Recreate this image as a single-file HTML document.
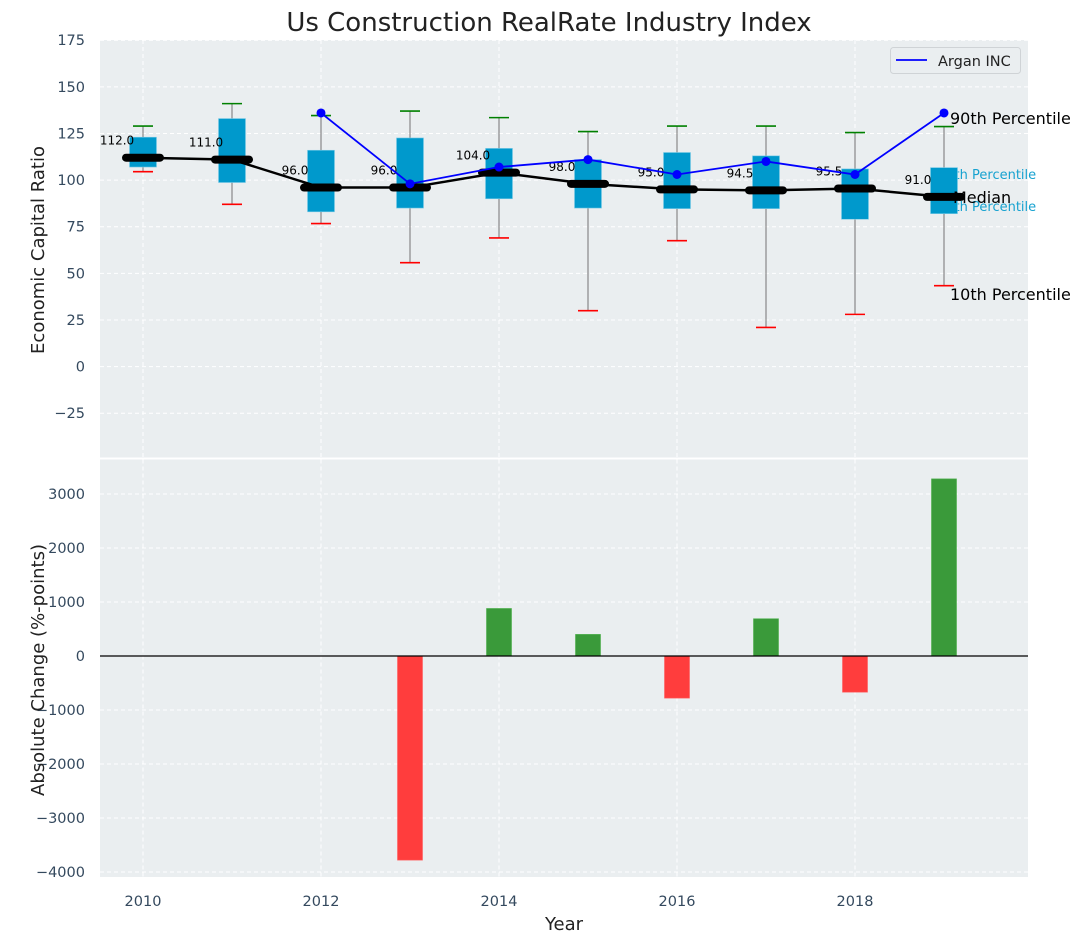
<!DOCTYPE html>
<html><head><meta charset="utf-8"><style>
body{margin:0;background:#fff}
svg{display:block;font-family:"DejaVu Sans","Liberation Sans",sans-serif}
</style></head><body>
<svg id="c" width="1085" height="942" viewBox="0 0 1085 942" xmlns="http://www.w3.org/2000/svg">
<text x="549" y="31" font-size="26" text-anchor="middle" fill="#222">Us Construction RealRate Industry Index</text>
<g id="topg"></g>
<g id="botg"></g>
</svg>
<script>
const years=[2010,2011,2012,2013,2014,2015,2016,2017,2018,2019];
const q1=[107,98.7,83,85,90,85,84.7,84.7,79,82];
const q3=[123,133,116,122.6,117,111,114.8,113,106,106.7];
const p10=[104.5,87,76.7,55.7,69,30,67.5,21,28,43.4];
const p90=[129,141,134.6,137,133.5,126,129,129,125.5,128.7];
const medians=[112,111,96,96,104,98,95,94.5,95.5,91];
const arganYears=[2012,2013,2014,2015,2016,2017,2018,2019];
const arganVals=[136,98,107,111,103,110,103,136];
const changes=[0,0,0,-3780,880,400,-780,690,-670,3280];
const topTicks=[-25,0,25,50,75,100,125,150,175];
const botTicks=[-4000,-3000,-2000,-1000,0,1000,2000,3000];
const xTicks=[2010,2012,2014,2016,2018];

const NS="http://www.w3.org/2000/svg";
function mk(parent,tag,attrs,text){const e=document.createElementNS(NS,tag);for(const k in attrs)e.setAttribute(k,attrs[k]);if(text!==undefined)e.textContent=text;parent.appendChild(e);return e;}
const L=100,R=1028;
const X=v=>143+(v-2010)*89;
const Yt=v=>366.6-(v)*1.865;
const Yb=v=>656-v*0.054;
const gTop=document.getElementById('topg'),gBot=document.getElementById('botg');

let bg=mk(gTop,'rect',{x:L,y:40,width:R-L,height:417.5,fill:'#eaeef0'});


let bg2=mk(gBot,'rect',{x:L,y:459.5,width:R-L,height:417.5,fill:'#eaeef0'});



xTicks.forEach(t=>{
  let g=mk(gTop,'line',{x1:X(t),x2:X(t),y1:40,y2:457.5,stroke:'#fff','stroke-dasharray':'4,3','stroke-width':1});
  
  
  let g2=mk(gBot,'line',{x1:X(t),x2:X(t),y1:459.5,y2:877,stroke:'#fff','stroke-dasharray':'4,3','stroke-width':1});
  
  
  let tl=mk(gBot,'text',{x:X(t),y:906,'font-size':14.5,fill:'#34495e','text-anchor':'middle'},String(t));
  
  
});
topTicks.forEach(t=>{
  let g=mk(gTop,'line',{x1:L,x2:R,y1:Yt(t),y2:Yt(t),stroke:'#fff','stroke-dasharray':'4,3','stroke-width':1});
  
  
  let tl=mk(gTop,'text',{x:85,y:Yt(t)+5,'font-size':14.5,fill:'#34495e','text-anchor':'end'},t<0?'\u2212'+(-t):String(t));
  
  
});
botTicks.forEach(t=>{
  let g=mk(gBot,'line',{x1:L,x2:R,y1:Yb(t),y2:Yb(t),stroke:'#fff','stroke-dasharray':'4,3','stroke-width':1});
  
  
  let tl=mk(gBot,'text',{x:85,y:Yb(t)+5,'font-size':14.5,fill:'#34495e','text-anchor':'end'},t<0?'\u2212'+(-t):String(t));
  
  
});

const ann=[['75th Percentile',938,179,13,'#17a2d0'],['25th Percentile',938,211,13,'#17a2d0']];
ann.forEach(a=>{let t=mk(gTop,'text',{x:a[1],y:a[2],'font-size':a[3],fill:a[4]},a[0]);

});

years.forEach((yr,i)=>{
  const x=X(yr);
  let w=mk(gTop,'line',{x1:x,x2:x,y1:Yt(p90[i]),y2:Yt(p10[i]),stroke:'#888','stroke-width':1.2});
  
  
  let b=mk(gTop,'rect',{x:x-13.5,y:Yt(q3[i]),width:27,height:Yt(q1[i])-Yt(q3[i]),fill:'#0099cc',stroke:'#7ccbe6','stroke-width':0.6});
  
  
  let g=mk(gTop,'line',{x1:x-10,x2:x+10,y1:Yt(p90[i]),y2:Yt(p90[i]),stroke:'green','stroke-width':1.6});
  
  
  let r=mk(gTop,'line',{x1:x-10,x2:x+10,y1:Yt(p10[i]),y2:Yt(p10[i]),stroke:'red','stroke-width':1.6});
  
  
});
let mp=mk(gTop,'polyline',{points:years.map((y,i)=>X(y)+','+Yt(medians[i])).join(' '),fill:'none',stroke:'#000','stroke-width':2.5});


years.forEach((yr,i)=>{
  const x=X(yr),y=Yt(medians[i]);
  let m=mk(gTop,'line',{x1:x-17,x2:x+17,y1:y,y2:y,stroke:'#000','stroke-width':8,'stroke-linecap':'round'});
  
  
  let t=mk(gTop,'text',{x:x-26,y:y-13,'font-size':12,fill:'#000','text-anchor':'middle'},medians[i].toFixed(1));
  
  
});
let ap=mk(gTop,'polyline',{points:arganYears.map((y,i)=>X(y)+','+Yt(arganVals[i])).join(' '),fill:'none',stroke:'#0000ff','stroke-width':1.8});


arganYears.forEach((yr,i)=>{let c=mk(gTop,'circle',{cx:X(yr),cy:Yt(arganVals[i]),r:4.5,fill:'#0000ff'});

});

[['90th Percentile',950,124,16],['Median',953,203,16],['10th Percentile',950,300,16]].forEach(a=>{
  let t=mk(gTop,'text',{x:a[1],y:a[2],'font-size':a[3],fill:'#000'},a[0]);
  
  
});

let lg=mk(gTop,'g',{});


mk(lg,'rect',{x:890.5,y:47.5,width:130,height:26,rx:3,fill:'#eaeef0',stroke:'#cfd3d6'});
mk(lg,'line',{x1:896,x2:927,y1:60,y2:60,stroke:'#0000ff','stroke-width':1.8});
let lt=mk(lg,'text',{x:938,y:66,'font-size':14.5,fill:'#222'},'Argan INC');



years.forEach((yr,i)=>{
  const v=changes[i];if(v===0)return;
  const y0=Yb(0),y1=Yb(v);
  let b=mk(gBot,'rect',{x:X(yr)-12.5,y:Math.min(y0,y1),width:25,height:Math.abs(y1-y0),fill:v>0?'#3a9a3a':'#ff3d3d',stroke:v>0?'#4cb04c':'#ff6060','stroke-width':0.6});
  
  
});
let zl=mk(gBot,'line',{x1:L,x2:R,y1:Yb(0),y2:Yb(0),stroke:'#000','stroke-width':1.2});



let t1=mk(gTop,'text',{x:0,y:0,'font-size':18,fill:'#222','text-anchor':'middle',transform:'translate(44,250) rotate(-90)'},'Economic Capital Ratio');


let t2=mk(gBot,'text',{x:0,y:0,'font-size':18,fill:'#222','text-anchor':'middle',transform:'translate(44,670) rotate(-90)'},'Absolute Change (%-points)');


let t3=mk(gBot,'text',{x:564,y:930,'font-size':18,fill:'#222','text-anchor':'middle'},'Year');


</script>
</body></html>
